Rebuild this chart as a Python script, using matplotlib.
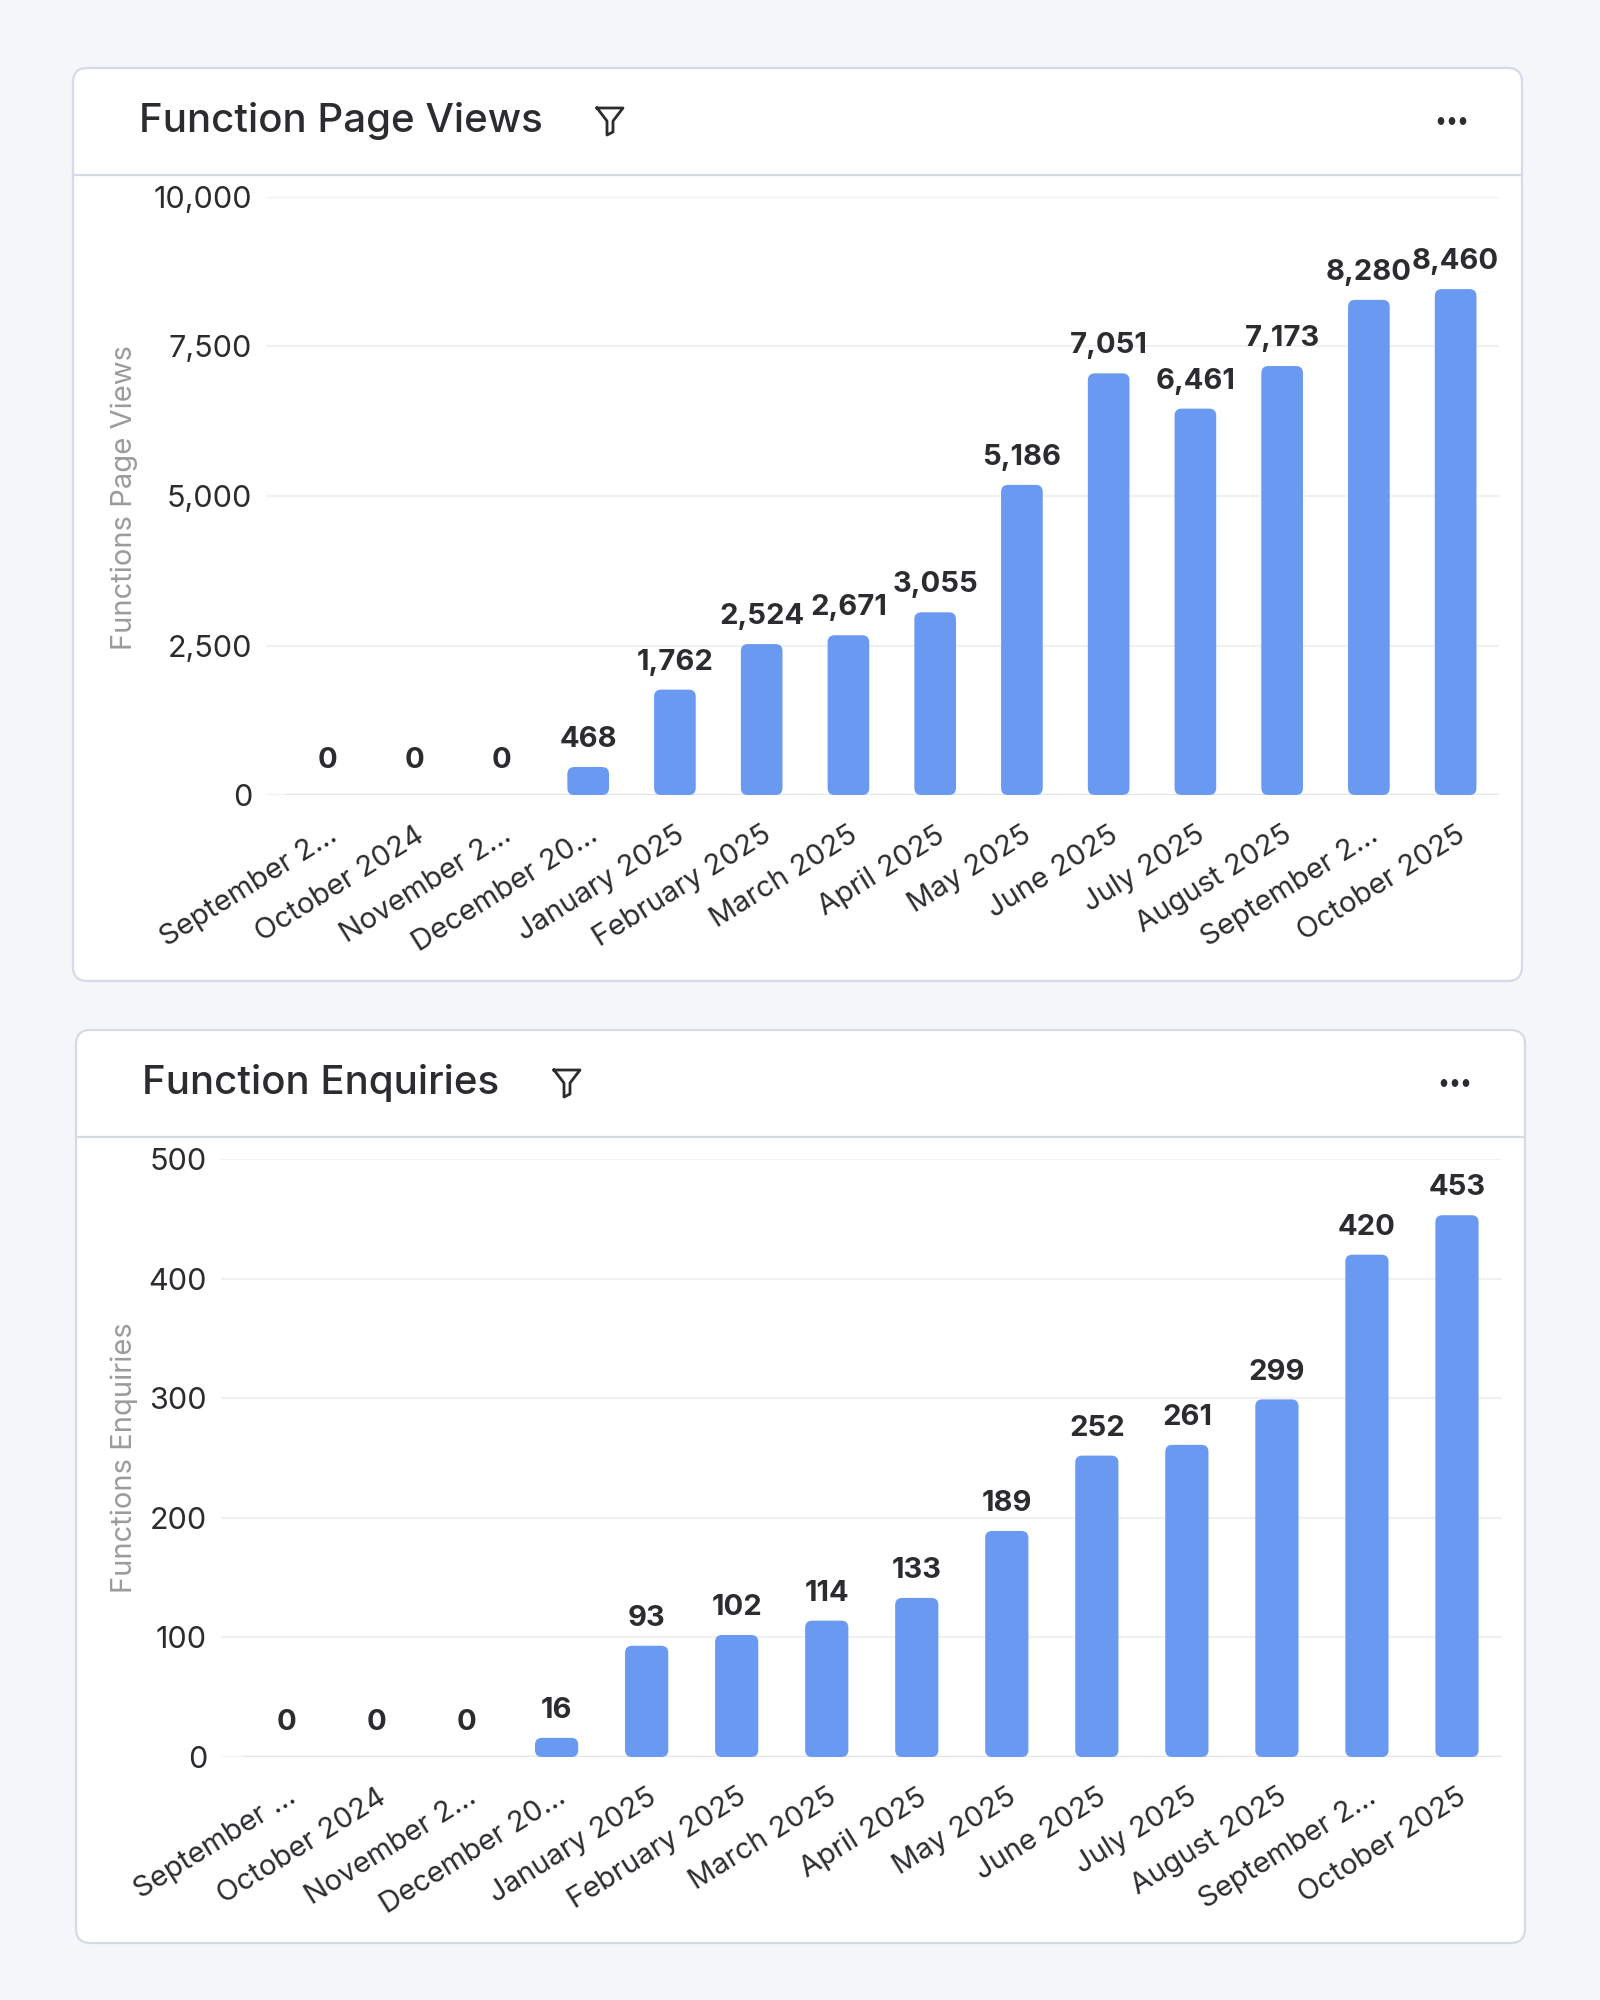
import matplotlib
matplotlib.use("Agg")
import matplotlib.pyplot as plt
from matplotlib.patches import FancyBboxPatch, Circle
from matplotlib.lines import Line2D
from matplotlib.ticker import FuncFormatter

plt.rcParams['font.family'] = ['Inter', 'DejaVu Sans']

# ---------------- data ----------------
months_views = ["September 2…", "October 2024", "November 2…", "December 20…",
                "January 2025", "February 2025", "March 2025", "April 2025",
                "May 2025", "June 2025", "July 2025", "August 2025",
                "September 2…", "October 2025"]
page_views = [0, 0, 0, 468, 1762, 2524, 2671, 3055, 5186, 7051, 6461, 7173, 8280, 8460]
views_ticks = [0, 2500, 5000, 7500, 10000]

months_enq = ["September …", "October 2024", "November 2…", "December 20…",
              "January 2025", "February 2025", "March 2025", "April 2025",
              "May 2025", "June 2025", "July 2025", "August 2025",
              "September 2…", "October 2025"]
enquiries = [0, 0, 0, 16, 93, 102, 114, 133, 189, 252, 261, 299, 420, 453]
enq_ticks = [0, 100, 200, 300, 400, 500]

titles = ["Function Page Views", "Function Enquiries"]
ylabels = ["Functions Page Views", "Functions Enquiries"]

# ---------------- style ----------------
W, H = 1600, 2000
BG = "#f5f6fa"
CARD_EDGE = "#d6dae6"
BAR = "#6a99f2"
TXT = "#2c2c30"
GRID = "#f1f1f3"
BASE = "#e4e5eb"

fig = plt.figure(figsize=(16, 20), dpi=100, facecolor=BG)


def fx(px):
    return px / W


def fy(py):
    return 1 - py / H


def card(x0, y0, x1, y1, sep_y):
    p = FancyBboxPatch((fx(x0), fy(y1)), fx(x1 - x0), (y1 - y0) / H,
                       boxstyle="round,pad=0,rounding_size=0.009",
                       mutation_aspect=W / H,
                       transform=fig.transFigure, facecolor="white",
                       edgecolor=CARD_EDGE, linewidth=1.6, zorder=-2)
    fig.patches.append(p)
    fig.add_artist(Line2D([fx(x0), fx(x1)], [fy(sep_y), fy(sep_y)],
                          transform=fig.transFigure, color=CARD_EDGE, lw=1.6,
                          zorder=-1))


def funnel(cx, cy):
    pts = [(-13, -13), (13, -13), (3, 0), (3, 11), (-3, 14), (-3, 0), (-13, -13)]
    xs = [fx(cx + a) for a, b in pts]
    ys = [fy(cy + b) for a, b in pts]
    fig.add_artist(Line2D(xs, ys, transform=fig.transFigure, color=TXT,
                          lw=2.0, solid_joinstyle='round'))


def dots(cx, cy):
    for dx in (-11, 0, 11):
        fig.add_artist(Circle((fx(cx + dx), fy(cy)), 2.6 / W,
                              transform=fig.transFigure, color=TXT))


def chart(ax, labels, values, ticks, band_px, left_extra_px):
    n = len(values)
    bw = 0.48
    bars = ax.bar(range(n), values, width=bw, color=BAR, zorder=3)
    ymax = ticks[-1]
    ax.set_ylim(0, ymax)
    ax.set_xlim(-0.5 - left_extra_px / band_px, n - 0.5)
    # rounded bars
    fig.canvas.draw()
    bbox = ax.get_window_extent()
    px_per_x = bbox.width / (n - 0.5 - ax.get_xlim()[0])
    px_per_y = bbox.height / ymax
    aspect = px_per_x / px_per_y
    r = 7 / px_per_x
    for rect in bars.patches:
        h = rect.get_height()
        rect.set_visible(False)
        if h <= 0:
            continue
        fb = FancyBboxPatch((rect.get_x(), 0), rect.get_width(), h,
                            boxstyle=f"round,pad=0,rounding_size={r}",
                            mutation_aspect=aspect, facecolor=BAR,
                            edgecolor='none', zorder=3,
                            transform=ax.transData)
        ax.add_patch(fb)
    for i, v in enumerate(values):
        off = 10 if v > 0 else 15
        ax.annotate(f"{v:,}", (i, v), xytext=(0, off), textcoords='offset points',
                    ha='center', va='bottom', fontsize=21, fontweight='bold',
                    color=TXT, zorder=4, annotation_clip=False)
    ax.set_yticks(ticks)
    ax.yaxis.set_major_formatter(FuncFormatter(lambda v, p: f"{int(v):,}"))
    ax.grid(axis='y', color=GRID, lw=1.6, zorder=0)
    ax.set_axisbelow(True)
    ax.hlines(0, -0.5, n - 0.5, color=BASE, lw=2.5, zorder=2)
    ax.set_xticks(range(n))
    ax.set_xticklabels(labels, rotation=32, ha='right', rotation_mode='anchor',
                       fontsize=21, color=TXT)
    ax.tick_params(axis='x', length=0, pad=19)
    ax.tick_params(axis='y', length=0, pad=10, labelsize=22, labelcolor=TXT)
    for s in ax.spines.values():
        s.set_visible(False)
    ax.set_facecolor('none')


# ---- card 1 ----
card(73, 68, 1522, 981, 175)
fig.text(fx(139), fy(121), titles[0], fontsize=29, fontweight=500, color=TXT,
         va='center', ha='left')
funnel(610, 121)
dots(1452, 121)
ax1 = fig.add_axes([fx(266), fy(795), fx(1499 - 266), (795 - 197) / H])
chart(ax1, months_views, page_views, views_ticks, 86.8, 18.6)
fig.text(fx(124), fy(497), ylabels[0], rotation=90, fontsize=21, color="#9b9b9e",
         ha='center', va='center')

# ---- card 2 ----
card(76, 1030, 1525, 1943, 1137)
fig.text(fx(142), fy(1083), titles[1], fontsize=29, fontweight=500, color=TXT,
         va='center', ha='left')
funnel(567, 1083)
dots(1455, 1083)
ax2 = fig.add_axes([fx(221), fy(1757), fx(1502 - 221), (1757 - 1159) / H])
chart(ax2, months_enq, enquiries, enq_ticks, 90.0, 20.5)
fig.text(fx(124), fy(1458), ylabels[1], rotation=90, fontsize=21, color="#9b9b9e",
         ha='center', va='center')

fig.savefig("out.png", dpi=100, facecolor=BG)
